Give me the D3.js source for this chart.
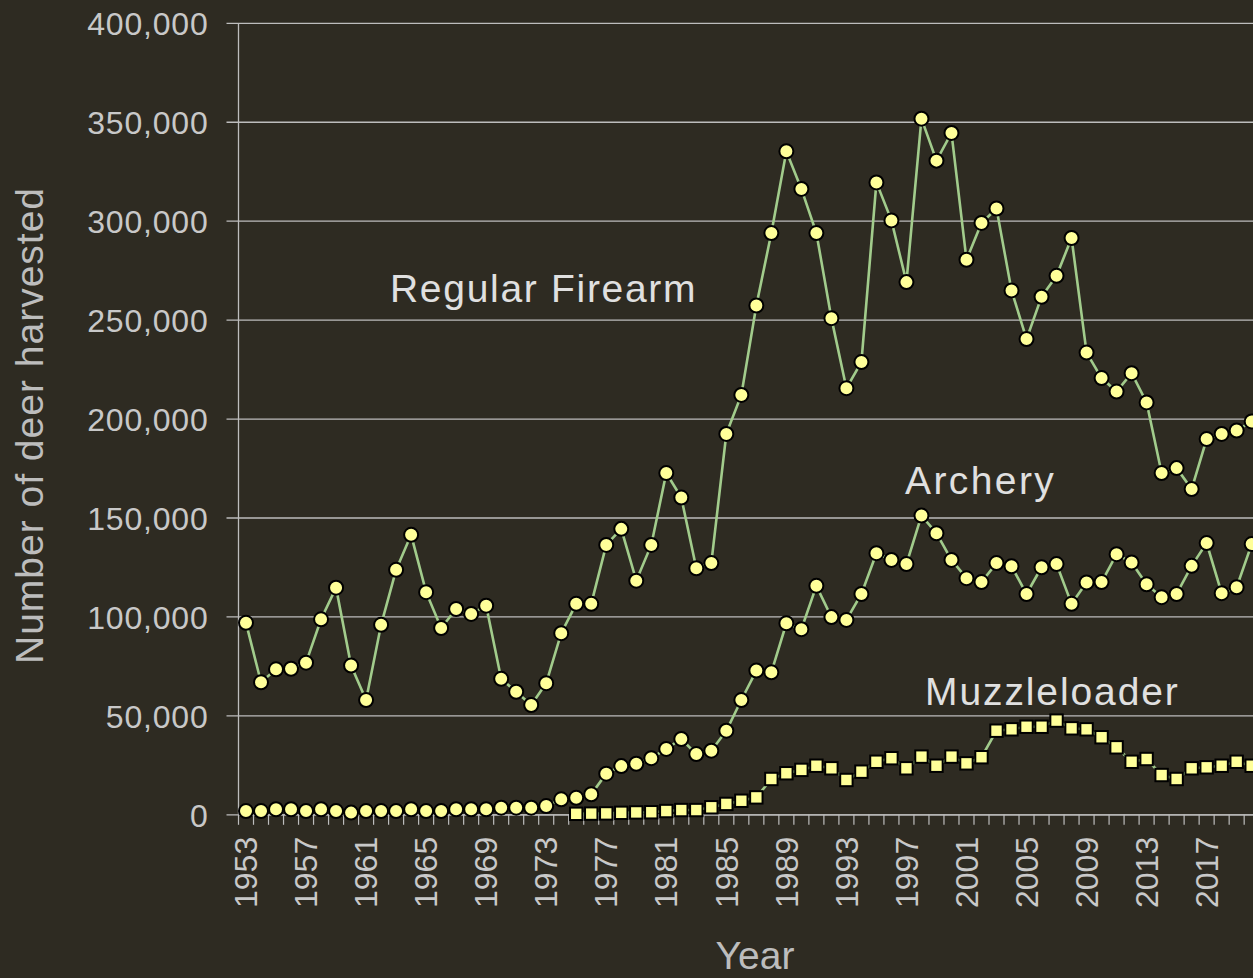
<!DOCTYPE html>
<html>
<head>
<meta charset="utf-8">
<script src="https://cdn.jsdelivr.net/npm/d3@7"></script>
<style>
  html, body { margin: 0; padding: 0; background: #2e2b22; overflow: hidden; }
  svg { display: block; }
</style>
</head>
<body>
<svg id="chart" width="1253" height="978"></svg>
<script>
// ---------- data ----------
const years = d3.range(1953, 2021);

const regularFirearm = [
  97000, 67000, 73500, 73800, 76900, 98800, 114800, 75400, 58000, 96000,
  123800, 141500, 112500, 94400, 104000, 101500, 105700, 68700, 62200, 55500,
  66500, 91800, 106600, 106600, 136400, 144500, 118300, 136400, 172700, 160300,
  124600, 127200, 192500, 212200, 257400, 294000, 335300, 316300, 294000, 251000,
  215600, 228800, 319600, 300400, 269200, 351800, 330600, 344600, 280500, 299100,
  306400, 265000, 240400, 261800, 272400, 291500, 233600, 220700, 213900, 223200,
  208400, 172700, 175200, 164600, 189900, 192500, 194200, 198800
];

const archery = [
  1900, 1900, 2800, 2800, 1900, 2800, 1900, 1100, 1900, 1900,
  1900, 2800, 1900, 1900, 2800, 2800, 2800, 3600, 3600, 3600,
  4400, 7800, 8600, 10400, 20800, 24600, 25800, 28600, 33300, 38300,
  30700, 32400, 42500, 58000, 72900, 72000, 96800, 93800, 115700, 99900,
  98500, 111600, 132200, 128800, 126700, 151200, 142300, 128800, 119600, 117600,
  127200, 125600, 111600, 125100, 126700, 106600, 117400, 117600, 131700, 127500,
  116500, 110000, 111600, 125800, 137300, 112000, 115000, 136800
];

const muzzleStart = 1975;
const muzzleloader = [
  500, 600, 700, 1000, 1200, 1300, 1900, 2400, 2400, 3800,
  5500, 7100, 8800, 18100, 21000, 22700, 24800, 23500, 17600, 21800,
  26800, 28600, 23500, 29400, 24800, 29400, 26000, 29100, 42500, 43200,
  44500, 44500, 47600, 43700, 43200, 39200, 34100, 26800, 28200, 20100,
  18100, 23500, 24000, 24800, 26800, 24800
];

const yTicks = [0, 50000, 100000, 150000, 200000, 250000, 300000, 350000, 400000];
const xLabelYears = years.filter(y => (y - 1953) % 4 === 0);

const seriesLabels = [
  { text: "Regular Firearm", x: 390, y: 302, ls: 1.7 },
  { text: "Archery", x: 905, y: 494, ls: 2.4 },
  { text: "Muzzleloader", x: 925, y: 705, ls: 1.9 }
];

// ---------- layout ----------
const svg = d3.select("#chart");
const W = 1253, H = 978;
const plotLeft = 238.5, plotTop = 23.3, plotBottom = 814.8;
const step = 15.01;
const plotRight = plotLeft + years.length * step;

const bg = "#2e2b22";
const gridColor = "#bdbdbd";
const tickText = "#c8c8c8";
const lineColor = "#a2cc8c";
const markerFill = "#ffff99";

svg.append("rect").attr("width", W).attr("height", H).attr("fill", bg);

const x = d3.scaleBand().domain(years).range([plotLeft, plotRight]).padding(0);
const xc = yr => x(yr) + x.bandwidth() / 2;
const y = d3.scaleLinear().domain([0, 400000]).range([plotBottom, plotTop]);

// gridlines + y ticks
svg.append("g").selectAll("line").data(yTicks).join("line")
  .attr("x1", plotLeft - 12).attr("x2", plotRight)
  .attr("y1", d => y(d)).attr("y2", d => y(d))
  .attr("stroke", gridColor).attr("stroke-width", 1.3);

// y axis (labels) via d3 axis
const yAxis = d3.axisLeft(y).tickValues(yTicks).tickSize(0).tickPadding(0)
  .tickFormat(d3.format(","));
const yg = svg.append("g").attr("transform", `translate(${plotLeft - 30},0)`).call(yAxis);
yg.select(".domain").remove();
yg.selectAll("text")
  .attr("fill", tickText)
  .attr("font-family", "'Liberation Sans', Arial, sans-serif")
  .attr("font-size", 32)
  .attr("letter-spacing", 0.8)
  .attr("dy", "0.35em");

// y axis line
svg.append("line")
  .attr("x1", plotLeft).attr("x2", plotLeft)
  .attr("y1", plotTop).attr("y2", plotBottom)
  .attr("stroke", gridColor).attr("stroke-width", 1.3);

// x axis line and ticks at band boundaries
svg.append("line")
  .attr("x1", plotLeft).attr("x2", plotRight)
  .attr("y1", plotBottom).attr("y2", plotBottom)
  .attr("stroke", gridColor).attr("stroke-width", 1.3);
svg.append("g").selectAll("line").data(years).join("line")
  .attr("x1", d => x(d)).attr("x2", d => x(d))
  .attr("y1", plotBottom).attr("y2", plotBottom + 10)
  .attr("stroke", gridColor).attr("stroke-width", 1.2);

// x labels
svg.append("g").selectAll("text").data(xLabelYears).join("text")
  .attr("transform", d => `translate(${xc(d)},${plotBottom + 22}) rotate(-90)`)
  .attr("text-anchor", "end")
  .attr("dy", "0.35em")
  .attr("fill", tickText)
  .attr("font-family", "'Liberation Sans', Arial, sans-serif")
  .attr("font-size", 32)
  .text(d => d);

// axis titles
svg.append("text")
  .attr("transform", `translate(43,425.5) rotate(-90)`)
  .attr("text-anchor", "middle")
  .attr("fill", "#bdbdbd")
  .attr("font-family", "'Liberation Sans', Arial, sans-serif")
  .attr("font-size", 39)
  .attr("letter-spacing", 1)
  .text("Number of deer harvested");

svg.append("text")
  .attr("x", 755).attr("y", 969)
  .attr("text-anchor", "middle")
  .attr("fill", "#bdbdbd")
  .attr("font-family", "'Liberation Sans', Arial, sans-serif")
  .attr("font-size", 39)
  .text("Year");

// ---------- series ----------
const line = d3.line().defined(d => d.v != null).x(d => xc(d.year)).y(d => y(d.v));

const firearmData = years.map((yr, i) => ({ year: yr, v: regularFirearm[i] }));
const archeryData = years.map((yr, i) => ({ year: yr, v: archery[i] }));
const muzzleData = muzzleloader.map((v, i) => ({ year: muzzleStart + i, v }));

function drawSeries(data, shape) {
  const g = svg.append("g");
  g.append("path").datum(data).attr("d", line)
    .attr("fill", "none").attr("stroke", lineColor).attr("stroke-width", 2.6);
  if (shape === "circle") {
    g.selectAll("circle").data(data).join("circle")
      .attr("cx", d => xc(d.year)).attr("cy", d => y(d.v)).attr("r", 7)
      .attr("fill", markerFill).attr("stroke", "#000").attr("stroke-width", 2);
  } else {
    const s = 12.4;
    g.selectAll("rect").data(data).join("rect")
      .attr("x", d => xc(d.year) - s / 2).attr("y", d => y(d.v) - s / 2)
      .attr("width", s).attr("height", s)
      .attr("fill", markerFill).attr("stroke", "#000").attr("stroke-width", 2);
  }
}
drawSeries(firearmData, "circle");
drawSeries(archeryData, "circle");
drawSeries(muzzleData, "square");

// series labels
svg.append("g").selectAll("text").data(seriesLabels).join("text")
  .attr("x", d => d.x).attr("y", d => d.y)
  .attr("fill", "#e0e0e0")
  .attr("font-family", "'Liberation Sans', Arial, sans-serif")
  .attr("font-size", 39)
  .attr("letter-spacing", d => d.ls)
  .text(d => d.text);
</script>
</body>
</html>
